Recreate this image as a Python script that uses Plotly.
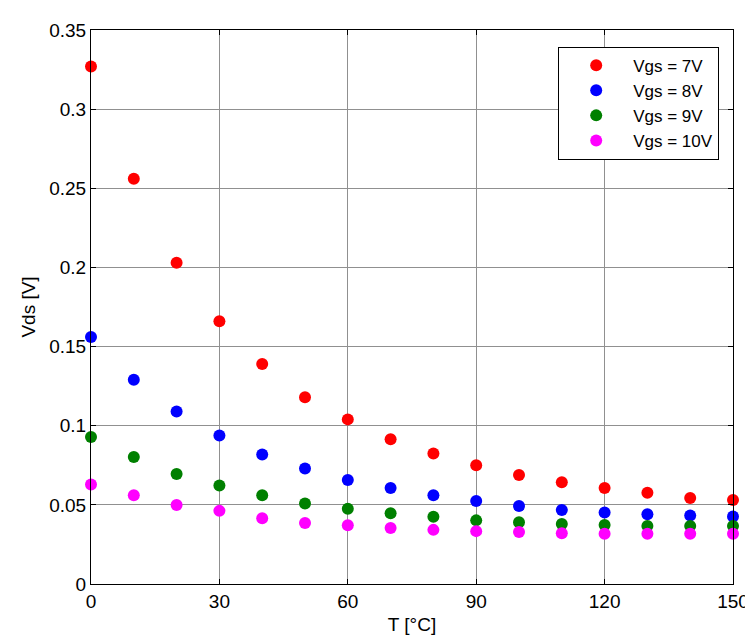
import plotly.graph_objects as go

T = [0, 10, 20, 30, 40, 50, 60, 70, 80, 90, 100, 110, 120, 130, 140, 150]
vgs7 = [0.327, 0.256, 0.203, 0.166, 0.139, 0.118, 0.104, 0.0915, 0.0824, 0.075, 0.0688, 0.0643, 0.0606, 0.0577, 0.0544, 0.053]
vgs8 = [0.156, 0.129, 0.109, 0.0938, 0.0818, 0.073, 0.0657, 0.0606, 0.0561, 0.0524, 0.0493, 0.0468, 0.0451, 0.0441, 0.0433, 0.0427]
vgs9 = [0.0928, 0.0802, 0.0695, 0.0623, 0.0561, 0.0509, 0.0476, 0.0447, 0.0425, 0.0402, 0.039, 0.0379, 0.0373, 0.0367, 0.0367, 0.0367]
vgs10 = [0.0629, 0.0561, 0.0499, 0.0462, 0.0416, 0.0385, 0.0371, 0.0354, 0.0342, 0.0334, 0.0328, 0.032, 0.0318, 0.0318, 0.0318, 0.0318]

names = ["Vgs = 7V", "Vgs = 8V", "Vgs = 9V", "Vgs = 10V"]
colors = ["#ff0000", "#0000ff", "#008000", "#ff00ff"]
series = [vgs7, vgs8, vgs9, vgs10]

FONT = "Arial, Liberation Sans, sans-serif"

fig = go.Figure()
for name, col, ys in zip(names, colors, series):
    fig.add_trace(go.Scatter(
        x=T, y=ys, mode="markers", name=name,
        marker=dict(color=col, size=12, line=dict(width=0)),
        cliponaxis=False,
    ))

axis_common = dict(
    showline=True, linecolor="black", linewidth=1, mirror="ticks",
    ticks="inside", ticklen=5, tickcolor="black",
    showgrid=True, gridcolor="#909090", gridwidth=1,
    zeroline=False,
    tickfont=dict(family=FONT, size=19, color="black"),
)

fig.update_xaxes(
    range=[0, 150], tickvals=[0, 30, 60, 90, 120, 150],
    title=dict(text="T [°C]", font=dict(family=FONT, size=19, color="black"), standoff=6),
    **axis_common,
)
fig.update_yaxes(
    range=[0, 0.35], tickvals=[0, 0.05, 0.1, 0.15, 0.2, 0.25, 0.3, 0.35],
    ticktext=["0", "0.05", "0.1", "0.15", "0.2", "0.25", "0.3", "0.35"],
    title=dict(text="Vds [V]", font=dict(family=FONT, size=19, color="black"), standoff=8),
    **axis_common,
)

fig.update_layout(
    width=753, height=635,
    margin=dict(l=83, r=18, t=18, b=51),
    paper_bgcolor="white", plot_bgcolor="white",
    font=dict(family=FONT, size=19, color="black"),
    showlegend=True,
    legend=dict(
        x=0.9785, y=0.970, xanchor="right", yanchor="top",
        bgcolor="white", bordercolor="black", borderwidth=1,
        font=dict(family=FONT, size=17, color="black"),
        itemwidth=64,
    ),
)

fig.write_html("out.html")
